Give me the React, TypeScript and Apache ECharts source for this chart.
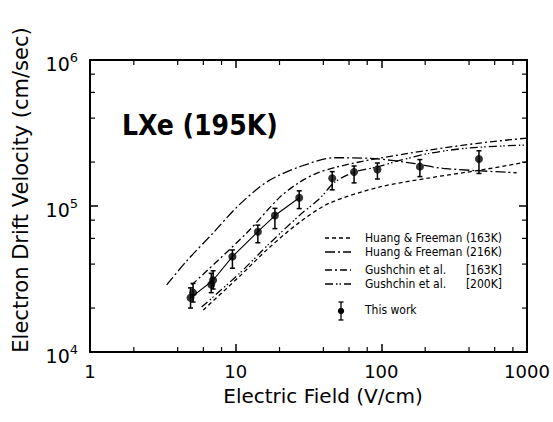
import React, { useEffect, useRef } from 'react';
import * as echarts from 'echarts';

// ---- axis ticks / labels ----
const xTickValues = [1, 10, 100, 1000];
const xTickLabels = ['1', '10', '100', '1000'];
const yTickValues = [1e4, 1e5, 1e6];
const yTickExponents = ['4', '5', '6'];
const xMinorTicks = [2, 4, 6, 8, 20, 40, 60, 80, 200, 400, 600, 800];
const yMinorTicks = [2e4, 4e4, 6e4, 8e4, 2e5, 4e5, 6e5, 8e5];

// ---- curves ----
const hf163X = [6.0, 10.7, 17.2, 27.6, 44.4, 97.8, 216, 475, 998];
const hf163Y = [1.94e4, 3.32e4, 5.24e4, 7.77e4, 1.05e5, 1.35e5, 1.56e5, 1.76e5, 2.0e5];

const hf216X = [3.36, 4.56, 7.02, 10.7, 16.7, 27.6, 48, 83.5, 166, 266, 849];
const hf216Y = [2.88e4, 4.15e4, 6.56e4, 1.03e5, 1.48e5, 1.86e5, 2.14e5, 2.12e5, 1.96e5, 1.81e5, 1.69e5];

const g163X = [4.99, 11.9, 20.1, 27.6, 36.2, 49.6, 83.5, 216, 475, 998];
const g163Y = [2.88e4, 6.53e4, 1.15e5, 1.46e5, 1.68e5, 1.85e5, 2.07e5, 2.42e5, 2.7e5, 2.92e5];

const g200X = [5.84, 10.7, 17.2, 27.6, 37.9, 48, 65.9, 93.3, 134, 216, 405, 998];
const g200Y = [2.03e4, 3.48e4, 5.58e4, 8.67e4, 1.13e5, 1.46e5, 1.71e5, 1.85e5, 2.05e5, 2.3e5, 2.5e5, 2.62e5];

// ---- this work (points with error bars) ----
const workX = [4.9, 5.1, 6.8, 7.0, 9.5, 14.2, 18.6, 27.3, 46, 65, 94, 184, 468];
const workY = [2.35e4, 2.55e4, 2.9e4, 3.1e4, 4.5e4, 6.67e4, 8.6e4, 1.14e5, 1.55e5, 1.71e5, 1.78e5, 1.86e5, 2.1e5];
const workLo = [2.0e4, 2.2e4, 2.55e4, 2.7e4, 3.75e4, 5.6e4, 7.0e4, 9.6e4, 1.29e5, 1.44e5, 1.53e5, 1.59e5, 1.67e5];
const workHi = [2.75e4, 2.95e4, 3.46e4, 3.6e4, 5.0e4, 7.4e4, 9.64e4, 1.27e5, 1.72e5, 1.88e5, 1.97e5, 2.08e5, 2.39e5];
// indices of the points joined by a thin line in the figure
const workLineIdx = [0, 3, 4, 5, 6, 7];

// ---- legend ----
const legendNames = ['Huang & Freeman', 'Huang & Freeman', 'Gushchin et al.', 'Gushchin et al.', 'This work'];
const legendTemps = ['(163K)', '(216K)', '[163K]', '[200K]'];

const FONT = "'DejaVu Sans', sans-serif";
const COND = "'DejaVu Sans Condensed', 'DejaVu Sans', sans-serif";

const dashHF163 = [4, 3];
const dashHF216 = [10, 3, 2, 3];
const dashG163 = [7, 3, 2, 3];
const dashG200 = [8, 3, 1.5, 2, 1.5, 3];

function zip(xs: number[], ys: number[]) {
  return xs.map((x, i) => [x, ys[i]]);
}

export default function App() {
  const ref = useRef<HTMLDivElement>(null);

  useEffect(() => {
    if (!ref.current) return;
    const chart = echarts.init(ref.current, undefined, { renderer: 'svg' });

    const curve = (name: string, xs: number[], ys: number[], dash: number[]) => ({
      name,
      type: 'line',
      data: zip(xs, ys),
      smooth: 0.3,
      symbol: 'none',
      lineStyle: { color: '#000', width: 1.3, type: dash },
      z: 3,
    });

    const legendRows = [238, 252, 270, 284];
    const legendDashes = [dashHF163, dashHF216, dashG163, dashG200];
    const graphics: any[] = [];
    legendRows.forEach((y, i) => {
      graphics.push({
        type: 'line',
        shape: { x1: 325, y1: y, x2: 351, y2: y },
        style: { stroke: '#000', lineWidth: 1.3, lineDash: legendDashes[i] },
      });
      graphics.push({
        type: 'text',
        x: 365,
        y,
        style: { text: legendNames[i], font: `12px ${COND}`, fill: '#000', verticalAlign: 'middle', align: 'left' },
      });
      graphics.push({
        type: 'text',
        x: 502,
        y,
        style: { text: legendTemps[i], font: `12px ${COND}`, fill: '#000', verticalAlign: 'middle', align: 'right' },
      });
    });
    // "This work" legend entry
    graphics.push(
      { type: 'line', shape: { x1: 341, y1: 302, x2: 341, y2: 320 }, style: { stroke: '#000', lineWidth: 1.3 } },
      { type: 'line', shape: { x1: 338.5, y1: 302, x2: 343.5, y2: 302 }, style: { stroke: '#000', lineWidth: 1.3 } },
      { type: 'line', shape: { x1: 338.5, y1: 320, x2: 343.5, y2: 320 }, style: { stroke: '#000', lineWidth: 1.3 } },
      { type: 'circle', shape: { cx: 341, cy: 311, r: 3.2 }, style: { fill: '#000' } },
      {
        type: 'text',
        x: 365,
        y: 310,
        style: { text: legendNames[4], font: `12px ${COND}`, fill: '#000', verticalAlign: 'middle', align: 'left' },
      },
    );
    // title inside plot
    graphics.push({
      type: 'text',
      x: 122,
      y: 125,
      style: { text: 'LXe (195K)', font: `bold 28px ${COND}`, fill: '#000', verticalAlign: 'middle', align: 'left' },
    });
    // y axis name
    graphics.push({
      type: 'text',
      x: 21,
      y: 190,
      rotation: Math.PI / 2,
      style: {
        text: 'Electron Drift Velocity (cm/sec)',
        font: `21px ${FONT}`,
        fill: '#000',
        verticalAlign: 'middle',
        align: 'center',
      },
    });
    // x axis name
    graphics.push({
      type: 'text',
      x: 323,
      y: 396,
      style: {
        text: 'Electric Field (V/cm)',
        font: `20px ${FONT}`,
        fill: '#000',
        verticalAlign: 'middle',
        align: 'center',
      },
    });

    const xLabel = (v: number) => {
      const i = xTickValues.findIndex((t) => Math.abs(Math.log10(t) - Math.log10(v)) < 1e-6);
      return i >= 0 ? xTickLabels[i] : '';
    };
    const yLabel = (v: number) => {
      const i = yTickValues.findIndex((t) => Math.abs(Math.log10(t) - Math.log10(v)) < 1e-6);
      return i >= 0 ? `{b|10}{sup|${yTickExponents[i]}}` : '';
    };

    const baseX = {
      type: 'log',
      logBase: 10,
      min: 1,
      max: 1000,
      splitLine: { show: false },
      axisLine: { show: true, lineStyle: { color: '#000', width: 2 } },
      axisTick: { show: true, inside: true, length: 8, lineStyle: { color: '#000', width: 1.5 } },
    };
    const baseY = {
      type: 'log',
      logBase: 10,
      min: 1e4,
      max: 1e6,
      splitLine: { show: false },
      axisLine: { show: true, lineStyle: { color: '#000', width: 2 } },
      axisTick: { show: true, inside: true, length: 8, lineStyle: { color: '#000', width: 1.5 } },
    };

    const minorLen = 5;

    chart.setOption({
      animation: false,
      backgroundColor: '#fff',
      grid: { left: 90, right: 26, top: 60, bottom: 70 },
      xAxis: [
        {
          ...baseX,
          position: 'bottom',
          axisLabel: {
            show: true,
            color: '#000',
            fontSize: 18,
            fontFamily: FONT,
            margin: 10,
            formatter: xLabel,
            showMinLabel: true,
            showMaxLabel: true,
          },
        },
        { ...baseX, position: 'top', axisLabel: { show: false } },
      ],
      yAxis: [
        {
          ...baseY,
          position: 'left',
          axisLabel: {
            show: true,
            color: '#000',
            margin: 12,
            formatter: yLabel,
            rich: {
              b: { fontSize: 19, fontFamily: FONT, color: '#000', padding: [8, 0, 0, 0] },
              sup: { fontSize: 13, fontFamily: FONT, color: '#000', padding: [0, 0, 6, 0] },
            },
          },
        },
        { ...baseY, position: 'right', axisLabel: { show: false } },
      ],
      series: [
        curve('Huang & Freeman (163K)', hf163X, hf163Y, dashHF163),
        curve('Huang & Freeman (216K)', hf216X, hf216Y, dashHF216),
        curve('Gushchin et al. [163K]', g163X, g163Y, dashG163),
        curve('Gushchin et al. [200K]', g200X, g200Y, dashG200),
        {
          name: 'This work (line)',
          type: 'line',
          data: workLineIdx.map((i) => [workX[i], workY[i]]),
          symbol: 'none',
          lineStyle: { color: '#000', width: 1.1 },
          z: 3,
        },
        {
          name: 'This work error',
          type: 'custom',
          data: workX.map((x, i) => [x, workLo[i], workHi[i]]),
          encode: { x: 0, y: [1, 2] },
          z: 4,
          renderItem: (params: any, api: any) => {
            const x = api.value(0);
            const lo = api.coord([x, api.value(1)]);
            const hi = api.coord([x, api.value(2)]);
            const w = 2.5;
            const st = { stroke: '#000', lineWidth: 1.5 };
            return {
              type: 'group',
              children: [
                { type: 'line', shape: { x1: lo[0], y1: lo[1], x2: hi[0], y2: hi[1] }, style: st },
                { type: 'line', shape: { x1: lo[0] - w, y1: lo[1], x2: lo[0] + w, y2: lo[1] }, style: st },
                { type: 'line', shape: { x1: hi[0] - w, y1: hi[1], x2: hi[0] + w, y2: hi[1] }, style: st },
              ],
            };
          },
        },
        {
          name: 'This work',
          type: 'scatter',
          data: zip(workX, workY),
          symbol: 'circle',
          symbolSize: 8,
          itemStyle: { color: '#000' },
          z: 5,
        },
        {
          name: 'x minor ticks',
          type: 'custom',
          data: xMinorTicks.map((v) => [v, 1e4]),
          encode: { x: 0, y: 1 },
          clip: false,
          silent: true,
          renderItem: (params: any, api: any) => {
            const v = api.value(0);
            const b = api.coord([v, 1e4]);
            const t = api.coord([v, 1e6]);
            const st = { stroke: '#000', lineWidth: 1.2 };
            return {
              type: 'group',
              children: [
                { type: 'line', shape: { x1: b[0], y1: b[1], x2: b[0], y2: b[1] - minorLen }, style: st },
                { type: 'line', shape: { x1: t[0], y1: t[1], x2: t[0], y2: t[1] + minorLen }, style: st },
              ],
            };
          },
        },
        {
          name: 'y minor ticks',
          type: 'custom',
          data: yMinorTicks.map((v) => [1, v]),
          encode: { x: 0, y: 1 },
          clip: false,
          silent: true,
          renderItem: (params: any, api: any) => {
            const v = api.value(1);
            const l = api.coord([1, v]);
            const r = api.coord([1000, v]);
            const st = { stroke: '#000', lineWidth: 1.2 };
            return {
              type: 'group',
              children: [
                { type: 'line', shape: { x1: l[0], y1: l[1], x2: l[0] + minorLen, y2: l[1] }, style: st },
                { type: 'line', shape: { x1: r[0], y1: r[1], x2: r[0] - minorLen, y2: r[1] }, style: st },
              ],
            };
          },
        },
      ],
      graphic: graphics,
    });

    return () => chart.dispose();
  }, []);

  return (
    <div
      ref={ref}
      style={{ position: 'fixed', left: 0, top: 0, width: 553, height: 422, background: '#fff' }}
    />
  );
}
